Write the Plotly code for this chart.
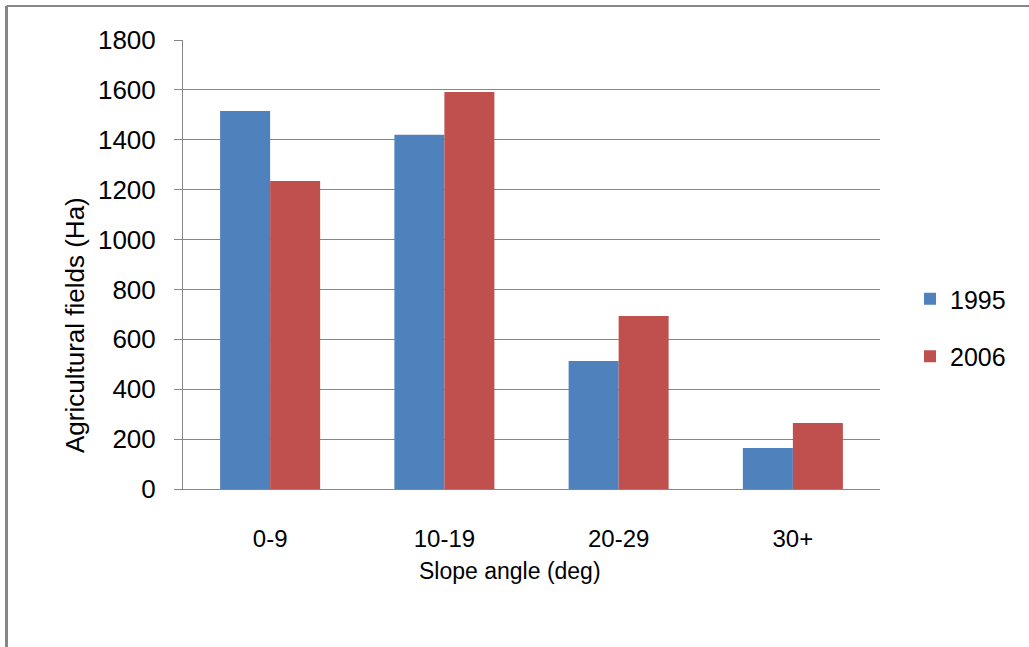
import plotly.graph_objects as go

# Agricultural field area by slope class, two survey years
slope_classes = ["0-9", "10-19", "20-29", "30+"]
area_1995 = [1515, 1420, 513, 164]
area_2006 = [1235, 1592, 694, 265]
y_ticks = [0, 200, 400, 600, 800, 1000, 1200, 1400, 1600, 1800]

BLUE = "#4F81BD"
RED = "#C0504D"
GRID = "#868686"
FONT = "Liberation Sans"

W, H = 1029, 647
L, R, T, B = 183, 149, 40, 158
pw, ph = W - L - R, H - T - B


def px_x(x):
    return (x - L) / pw


def px_y(y):
    return (H - B - y) / ph


fig = go.Figure()
fig.add_trace(go.Bar(x=slope_classes, y=area_1995, name="1995",
                     marker=dict(color=BLUE, line=dict(width=0)),
                     legendgroup="a"))
fig.add_trace(go.Bar(x=slope_classes, y=area_2006, name="2006",
                     marker=dict(color=RED, line=dict(width=0)),
                     legendgroup="b"))

# outer frame (top and left edges)
fig.add_shape(type="line", xref="paper", yref="paper",
              x0=px_x(6.5), x1=px_x(W + 5), y0=px_y(6), y1=px_y(6),
              line=dict(color=GRID, width=2))
fig.add_shape(type="line", xref="paper", yref="paper",
              x0=px_x(6.5), x1=px_x(6.5), y0=px_y(6), y1=px_y(H + 5),
              line=dict(color=GRID, width=3))

fig.add_annotation(text="Agricultural fields (Ha)", xref="paper", yref="paper",
                   x=px_x(75), y=px_y(325), xanchor="center", yanchor="middle",
                   showarrow=False, textangle=-90,
                   font=dict(family=FONT, size=26, color="black"))
fig.add_annotation(text="Slope angle (deg)", xref="paper", yref="paper",
                   x=px_x(510), y=px_y(571), xanchor="center", yanchor="middle",
                   showarrow=False,
                   font=dict(family=FONT, size=23, color="black"))

fig.update_layout(
    width=W, height=H,
    margin=dict(l=L, r=R, t=T, b=B, autoexpand=False),
    paper_bgcolor="white", plot_bgcolor="white",
    barmode="group", bargap=0.426, bargroupgap=0,
    font=dict(family=FONT, color="black"),
    showlegend=True,
    legend=dict(x=px_x(910), y=px_y(276), xanchor="left", yanchor="top",
                font=dict(family=FONT, size=25, color="black"),
                tracegroupgap=22, bgcolor="rgba(0,0,0,0)"),
    xaxis=dict(showline=True, linecolor=GRID, linewidth=1, ticks="",
               tickfont=dict(family=FONT, size=24, color="black"),
               ticklabelstandoff=28, showgrid=False),
    yaxis=dict(range=[0, 1800], tickvals=y_ticks, showgrid=True,
               gridcolor=GRID, gridwidth=1, showline=True, linecolor=GRID,
               linewidth=1, ticks="outside", ticklen=8, tickcolor=GRID,
               tickfont=dict(family=FONT, size=26, color="black"),
               ticklabelstandoff=13, zeroline=False),
)

fig.write_html("out.html")
